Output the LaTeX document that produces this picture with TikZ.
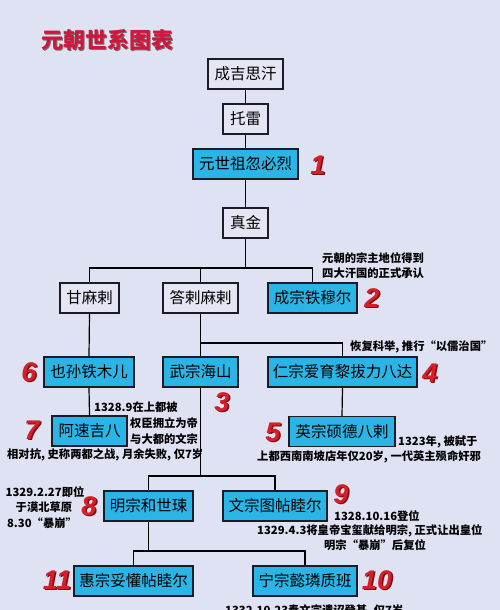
\documentclass[tikz,border=0pt]{standalone}
\usepackage{fontspec}
\newfontfamily\cjk{Noto Sans CJK SC}
\newfontfamily\numfont{Liberation Sans}
\definecolor{bg}{HTML}{DFE2F2}
\definecolor{boxw}{HTML}{E4E6F4}
\definecolor{boxc}{HTML}{2BB4E6}
\definecolor{edge}{HTML}{1C1C28}
\definecolor{titlered}{HTML}{D0163C}
\definecolor{numred}{HTML}{D81E28}
\definecolor{numshadow}{HTML}{7A0E12}
\begin{document}
\begin{tikzpicture}[x=1pt,y=-1pt,
  box/.style={draw=edge, line width=1.3pt, inner sep=0pt, minimum height=30pt,
    font=\cjk\fontsize{15.5}{18}\selectfont, text=black},
  wbox/.style={box, fill=boxw},
  cbox/.style={box, fill=boxc},
  conn/.style={draw=black, line width=1.2pt},
  note/.style={inner sep=0pt, font=\cjk\bfseries\fontsize{11.3}{15.5}\selectfont, text=black},
  num/.style={inner sep=0pt, font=\numfont\bfseries\itshape\fontsize{27}{27}\selectfont, text=numred},
  numsh/.style={inner sep=0pt, font=\numfont\bfseries\itshape\fontsize{27}{27}\selectfont, text=numshadow}
]
\useasboundingbox (0,0) rectangle (500,610);
\fill[bg] (0,0) rectangle (500,610);

% title
\node[inner sep=0pt, font=\cjk\bfseries\fontsize{22}{22}\selectfont, text=black!55] at (108.6,41.4) {元朝世系图表};
\node[inner sep=0pt, font=\cjk\bfseries\fontsize{22}{22}\selectfont, text=titlered] (title) at (107.5,40) {元朝世系图表};

% boxes
\node[wbox, minimum width=75pt] (cj) at (245.5,74) {成吉思汗};
\node[wbox, minimum width=45pt] (tl) at (245.5,119) {托雷};
\node[cbox, minimum width=105pt] (kb) at (245.5,164) {元世祖忽必烈};
\node[wbox, minimum width=45pt] (zj) at (245.5,223) {真金};
\node[wbox, minimum width=59pt] (gm) at (89.5,298) {甘麻剌};
\node[wbox, minimum width=75pt] (dl) at (200.5,298) {答剌麻剌};
\node[cbox, minimum width=89pt] (cz) at (312.5,298) {成宗铁穆尔};
\node[cbox, minimum width=90pt] (ys) at (89,372) {也孙铁木儿};
\node[cbox, minimum width=75pt] (wz) at (200.5,372) {武宗海山};
\node[cbox, minimum width=149pt] (rz) at (342.5,372) {仁宗爱育黎拔力八达};
\node[cbox, minimum width=75pt] (as) at (89.5,431) {阿速吉八};
\node[cbox, minimum width=106pt] (yz) at (342,431.5) {英宗硕德八剌};
\node[cbox, minimum width=89pt] (mz) at (148.5,506) {明宗和世㻋};
\node[cbox, minimum width=104pt] (wenz) at (275,506) {文宗图帖睦尔};
\node[cbox, minimum width=119pt] (hz) at (133.5,581) {惠宗妥懽帖睦尔};
\node[cbox, minimum width=104pt] (nz) at (305,581) {宁宗懿璘质班};

% junction coordinates
\coordinate (j0) at (245.5,268);
\coordinate (j1) at (200.5,343);
\coordinate (j2) at (200.5,476);
\coordinate (j3) at (148.5,551);

% connectors
\draw[conn] (cj.south) -- (tl.north);
\draw[conn] (tl.south) -- (kb.north);
\draw[conn] (kb.south) -- (zj.north);
\draw[conn] (zj.south) -- (j0);
\draw[conn] (gm.north) |- (j0) -| (cz.north);
\draw[conn] (j0 -| dl.north) -- (dl.north);
\draw[conn] (gm.south) -- (ys.north);
\draw[conn] (ys.south) -- (as.north);
\draw[conn] (dl.south) -- (wz.north);
\draw[conn] (j1) -| (rz.north);
\draw[conn] (rz.south) -- (yz.north);
\draw[conn] (wz.south) -- (j2);
\draw[conn] (mz.north) |- (j2) -| (wenz.north);
\draw[conn] (mz.south) -- (j3);
\draw[conn] (hz.north) |- (j3) -| (nz.north);

% red numbers
\foreach \n/\x/\y in {1/318/165, 2/372/298, 3/222/402, 4/430/373, 5/273/432, 6/29/372, 7/32/430, 8/89/506, 9/341/494, 10/377/580, 11/57/580}{
  \node[numsh] at (\x+1.5,\y+1.5) {\n};
  \node[num] (n\n) at (\x,\y) {\n};
}

% notes
\node[note, anchor=west, align=left] (a1) at (322,265.5) {元朝的宗主地位得到\\四大汗国的正式承认};
\node[note, anchor=west] (a2) at (350,347) {恢复科举, 推行“以儒治国”};
\node[note, anchor=west] (a3) at (94,407) {1328.9在上都被};
\node[note, anchor=west] (a4) at (130,423) {权臣拥立为帝};
\node[note, anchor=west] (a5) at (130,439) {与大都的文宗};
\node[note, anchor=west] (a6) at (7,455) {相对抗, 史称两都之战, 月余失败, 仅7岁};
\node[note, anchor=west] (a7) at (398,442) {1323年, 被弑于};
\node[note, anchor=west] (a8) at (257,457) {上都西南南坡店年仅20岁, 一代英主殒命奸邪};
\node[note] (a9) at (45,492) {1329.2.27即位};
\node[note] (a10) at (44,507.5) {于漠北草原};
\node[note] (a11) at (42,523) {8.30“暴崩”};
\node[note, anchor=west] (a12) at (334,516) {1328.10.16登位};
\node[note, anchor=west] (a13) at (257,530.5) {1329.4.3将皇帝宝玺献给明宗, 正式让出皇位};
\node[note] (a14) at (375,545.5) {明宗“暴崩”后复位};
\node[note, anchor=west] (a15) at (225,611) {1332.10.23奉文宗遗诏登基, 仅7岁};
\end{tikzpicture}
\end{document}
